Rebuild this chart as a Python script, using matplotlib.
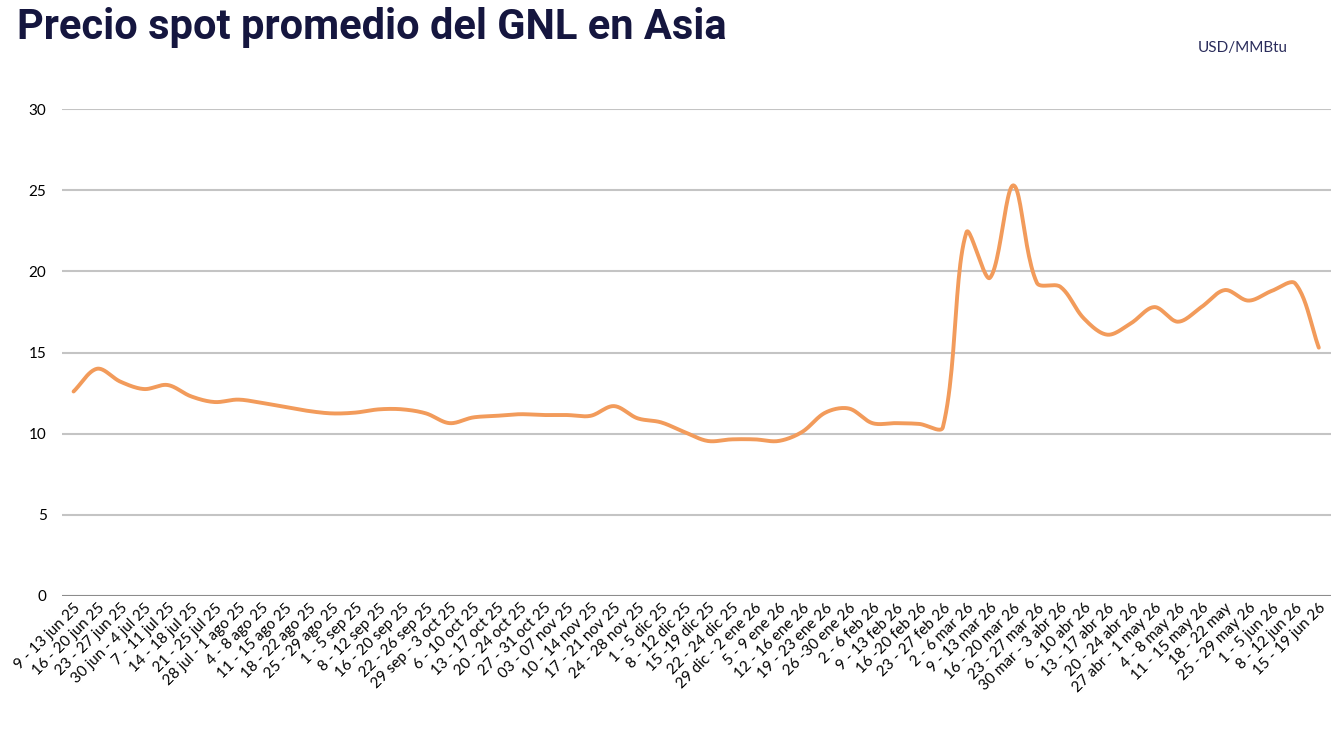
import numpy as np
import matplotlib.pyplot as plt

# weekly labels and average spot LNG price in Asia (USD/MMBtu)
semanas = [
    "9 - 13 jun 25", "16 - 20 jun 25", "23 - 27 jun 25", "30 jun - 4 jul 25",
    "7 - 11 jul 25", "14 - 18 jul 25", "21 - 25 jul 25", "28 jul - 1 ago 25",
    "4 - 8 ago 25", "11 - 15 ago 25", "18 - 22 ago 25", "25 - 29 ago 25",
    "1 - 5 sep 25", "8 - 12 sep 25", "16 - 20 sep 25", "22 - 26 sep 25",
    "29 sep - 3 oct 25", "6 - 10 oct 25", "13 - 17 oct 25", "20 - 24 oct 25",
    "27 - 31 oct 25", "03 - 07 nov 25", "10 - 14 nov 25", "17 - 21 nov 25",
    "24 - 28 nov 25", "1 - 5 dic 25", "8 - 12 dic 25", "15 -19 dic 25",
    "22 - 24 dic 25", "29 dic - 2 ene 26", "5 - 9 ene 26", "12 - 16 ene 26",
    "19 - 23 ene 26", "26 -30 ene 26", "2 - 6 feb 26", "9 - 13 feb 26",
    "16 -20 feb 26", "23 - 27 feb 26", "2 - 6 mar 26", "9 - 13 mar 26",
    "16 - 20 mar 26", "23 - 27 mar 26", "30 mar - 3 abr 26", "6 - 10 abr 26",
    "13 - 17 abr 26", "20 - 24 abr 26", "27 abr - 1 may 26", "4 - 8 may 26",
    "11 - 15 may 26", "18 - 22 may", "25 - 29 may 26", "1 - 5 jun 26",
    "8 - 12 jun 26", "15 - 19 jun 26",
]
precio = [
    12.6, 14.0, 13.2, 12.75, 13.0, 12.3, 11.95, 12.1, 11.9, 11.65,
    11.4, 11.25, 11.3, 11.5, 11.5, 11.25, 10.65, 11.0, 11.1, 11.2,
    11.15, 11.15, 11.1, 11.7, 10.95, 10.7, 10.1, 9.55, 9.65, 9.65,
    9.55, 10.1, 11.3, 11.55, 10.65, 10.65, 10.6, 10.4, 22.4, 19.6,
    25.3, 19.3, 19.05, 17.1, 16.1, 16.8, 17.8, 16.9, 17.8, 18.85,
    18.2, 18.8, 19.25, 15.3,
]


def smooth(x, y, sx=23.5, sy=16.2, n=24):
    # chord-length weighted bezier smoothing (like a spreadsheet smoothed line)
    x = np.asarray(x, float)
    y = np.asarray(y, float)
    px = np.concatenate([[x[0]], x, [x[-1]]])
    py = np.concatenate([[y[0]], y, [y[-1]]])
    dist = lambda i, j: np.hypot((px[j] - px[i]) * sx, (py[j] - py[i]) * sy)
    t = np.linspace(0, 1, n, endpoint=False)
    b = lambda a0, a1, a2, a3: ((1 - t) ** 3 * a0 + 3 * (1 - t) ** 2 * t * a1
                                + 3 * (1 - t) * t ** 2 * a2 + t ** 3 * a3)
    xs, ys = [], []
    for i in range(1, len(px) - 2):
        d01, d12, d23 = dist(i - 1, i), dist(i, i + 1), dist(i + 1, i + 2)
        f1 = d12 / (d01 + d12) / 3 if d01 + d12 > 0 else 0
        f2 = d12 / (d12 + d23) / 3 if d12 + d23 > 0 else 0
        c1x = px[i] + (px[i + 1] - px[i - 1]) * f1
        c1y = py[i] + (py[i + 1] - py[i - 1]) * f1
        c2x = px[i + 1] - (px[i + 2] - px[i]) * f2
        c2y = py[i + 1] - (py[i + 2] - py[i]) * f2
        xs.append(b(px[i], c1x, c2x, px[i + 1]))
        ys.append(b(py[i], c1y, c2y, py[i + 1]))
    xs.append([x[-1]])
    ys.append([y[-1]])
    return np.concatenate(xs), np.concatenate(ys)


fig = plt.figure(figsize=(13.44, 7.4), dpi=100)
ax = fig.add_axes([0.046, 0.1946, 0.944, 0.658])

xi = np.arange(len(precio))
lx, ly = smooth(xi, precio)
ax.plot(lx, ly, color="#F29B5B", lw=2.8, solid_capstyle="round", zorder=3)

ax.set_xlim(-0.5, len(precio) - 0.5)
ax.set_ylim(0, 30)
ax.set_yticks([0, 5, 10, 15, 20, 25, 30])
ax.grid(axis="y", color="#c4c4c4", lw=1.5)
ax.axhline(0, color="#8c8c8c", lw=2.2, zorder=2)
for s in ax.spines.values():
    s.set_visible(False)
ax.tick_params(length=0)
ax.tick_params(axis="y", labelsize=11, pad=11)
ax.set_xticks(xi)
ax.set_xticklabels(semanas, rotation=45, ha="right", rotation_mode="anchor",
                   fontsize=11, family="Lato")
for lab in ax.get_yticklabels():
    lab.set_family("Lato")

fig.text(0.013, 0.963, "Precio spot promedio del GNL en Asia", fontsize=30,
         fontweight="bold", color="#15163F", family="Roboto", va="center")
fig.text(0.958, 0.935, "USD/MMBtu", fontsize=11, color="#2B2D5C",
         family="Lato", ha="right", va="center")

fig.savefig("out.png", dpi=100)
